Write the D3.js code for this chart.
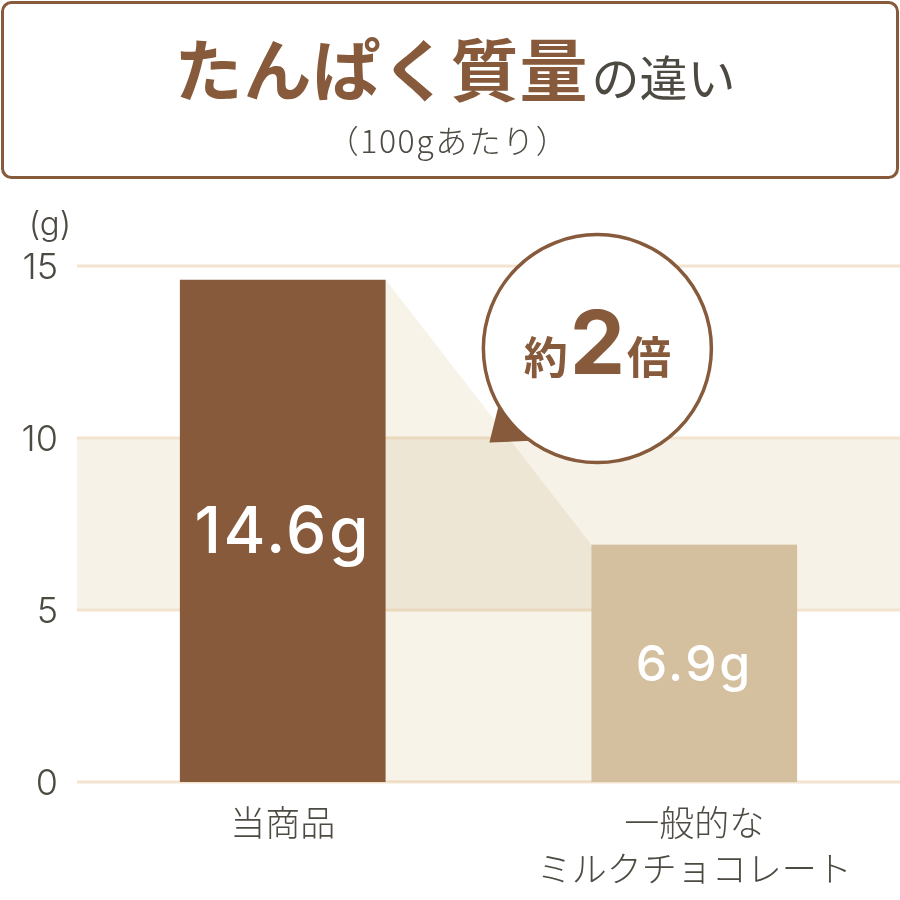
<!DOCTYPE html>
<html>
<head>
<meta charset="utf-8">
<style>
  body { margin: 0; background: #fff; }
  svg { display: block; }
  .jp { font-family: "Noto Sans CJK JP", "Noto Sans", sans-serif; }
  .num { font-family: "Inter", "Noto Sans", sans-serif; }
</style>
</head>
<body>
<svg width="900" height="900"></svg>
<script src="https://d3js.org/d3.v7.min.js"></script>
<script>
// data
const categories = ["当商品", "一般的な\nミルクチョコレート"];
const values = [14.6, 6.9];
const valueLabels = ["14.6g", "6.9g"];
const barColors = ["#875a3c", "#d4c09f"];
const yTicks = [0, 5, 10, 15];
const bandRange = [5, 10];
const ratioText = ["約", "2", "倍"];

const brown = "#875a3c";
const ink = "#4d4a42";

const svg = d3.select("svg");

// title box
svg.append("rect")
  .attr("x", 2.5).attr("y", 2.5)
  .attr("width", 895).attr("height", 175)
  .attr("rx", 9)
  .attr("fill", "#fff")
  .attr("stroke", brown)
  .attr("stroke-width", 3);

const title = svg.append("text")
  .attr("class", "jp")
  .attr("x", 455).attr("y", 96)
  .attr("text-anchor", "middle");
title.append("tspan")
  .attr("font-size", 68).attr("font-weight", 700)
  .attr("fill", brown)
  .attr("letter-spacing", 1)
  .text("たんぱく質量");
title.append("tspan")
  .attr("font-size", 48).attr("font-weight", 400)
  .attr("fill", ink)
  .attr("dx", 3)
  .text("の違い");

svg.append("text")
  .attr("class", "jp")
  .attr("x", 448).attr("y", 153)
  .attr("text-anchor", "middle")
  .attr("font-size", 32).attr("font-weight", 300)
  .attr("fill", ink)
  .attr("letter-spacing", 1.5)
  .text("（100gあたり）");

// scales
const x = d3.scaleBand()
  .domain(categories)
  .range([77, 900])
  .paddingInner(0.5)
  .paddingOuter(0.25);

const y = d3.scaleLinear()
  .domain([0, 15])
  .range([782, 266]);

const plot = svg.append("g");

// background band 5-10
plot.append("rect")
  .attr("x", 77)
  .attr("y", y(bandRange[1]))
  .attr("width", 900 - 77)
  .attr("height", y(bandRange[0]) - y(bandRange[1]))
  .attr("fill", "#f6f2e8");

// gridlines
plot.selectAll(".grid")
  .data(yTicks)
  .join("line")
  .attr("class", "grid")
  .attr("x1", 77).attr("x2", 900)
  .attr("y1", d => y(d)).attr("y2", d => y(d))
  .attr("stroke", "#f3e4d0")
  .attr("stroke-width", 3);

// connector shadow between bars
const x0r = x(categories[0]) + x.bandwidth();
const x1l = x(categories[1]);
plot.append("path")
  .attr("d", d3.line()([
    [x0r, y(values[0])],
    [x1l, y(values[1])],
    [x1l, y(0)],
    [x0r, y(0)]
  ]) + "Z")
  .attr("fill", "#f7f3e9")
  .style("mix-blend-mode", "multiply");

// bars
plot.selectAll(".bar")
  .data(values)
  .join("rect")
  .attr("class", "bar")
  .attr("x", (d, i) => x(categories[i]))
  .attr("y", d => y(d))
  .attr("width", x.bandwidth())
  .attr("height", d => y(0) - y(d))
  .attr("fill", (d, i) => barColors[i]);

// value labels
const labelSizes = [64, 50];
plot.selectAll(".vlabel")
  .data(values)
  .join("text")
  .attr("class", "vlabel num")
  .attr("x", (d, i) => x(categories[i]) + x.bandwidth() / 2)
  .attr("y", (d, i) => i === 0 ? y(d * 0.5) + 22 : y(d * 0.5) + 18)
  .attr("text-anchor", "middle")
  .attr("font-size", (d, i) => labelSizes[i])
  .attr("font-weight", 500)
  .attr("letter-spacing", 2.5)
  .attr("fill", "#fff")
  .text((d, i) => valueLabels[i]);

// y tick labels
svg.selectAll(".tick")
  .data(yTicks)
  .join("text")
  .attr("class", "tick num")
  .attr("x", 58)
  .attr("y", d => y(d))
  .attr("dy", "0.36em")
  .attr("text-anchor", "end")
  .attr("font-size", 36)
  .attr("font-weight", 300)
  .attr("fill", ink)
  .text(d => d);

svg.append("text")
  .attr("class", "num")
  .attr("x", 50).attr("y", 235)
  .attr("text-anchor", "middle")
  .attr("font-size", 33)
  .attr("font-weight", 300)
  .attr("fill", ink)
  .text("(g)");

// x category labels
svg.selectAll(".xlabel")
  .data(categories)
  .join("text")
  .attr("class", "xlabel jp")
  .attr("x", d => x(d) + x.bandwidth() / 2)
  .attr("y", 836)
  .attr("text-anchor", "middle")
  .attr("font-size", 35)
  .attr("font-weight", 300)
  .attr("fill", ink)
  .each(function(d) {
    const t = d3.select(this);
    d.split("\n").forEach((line, i) => {
      t.append("tspan")
        .attr("x", x(d) + x.bandwidth() / 2)
        .attr("dy", i === 0 ? 0 : 46)
        .text(line);
    });
  });

// ratio bubble
const cx = (x0r + x(categories[1]) + x.bandwidth()) / 2 + 6;
const cy = y(12.6);
const r = 114;
const ang = a => [cx + r * Math.cos(a * Math.PI / 180), cy + r * Math.sin(a * Math.PI / 180)];
svg.append("path")
  .attr("d", d3.line()([ang(150), [cx - 108, cy + 94], ang(126)]) + "Z")
  .attr("fill", brown);
svg.append("circle")
  .attr("cx", cx).attr("cy", cy).attr("r", r)
  .attr("fill", "#fff")
  .attr("stroke", brown)
  .attr("stroke-width", 3.5);

const bt = svg.append("text")
  .attr("x", cx).attr("y", cy + 25)
  .attr("text-anchor", "middle")
  .attr("fill", brown);
bt.append("tspan").attr("class", "jp")
  .attr("font-size", 44).attr("font-weight", 700).text(ratioText[0]);
bt.append("tspan").attr("class", "num")
  .attr("font-size", 88).attr("font-weight", 700).attr("dx", 2).text(ratioText[1]);
bt.append("tspan").attr("class", "jp")
  .attr("font-size", 44).attr("font-weight", 700).attr("dx", 2).text(ratioText[2]);
</script>
</body>
</html>
